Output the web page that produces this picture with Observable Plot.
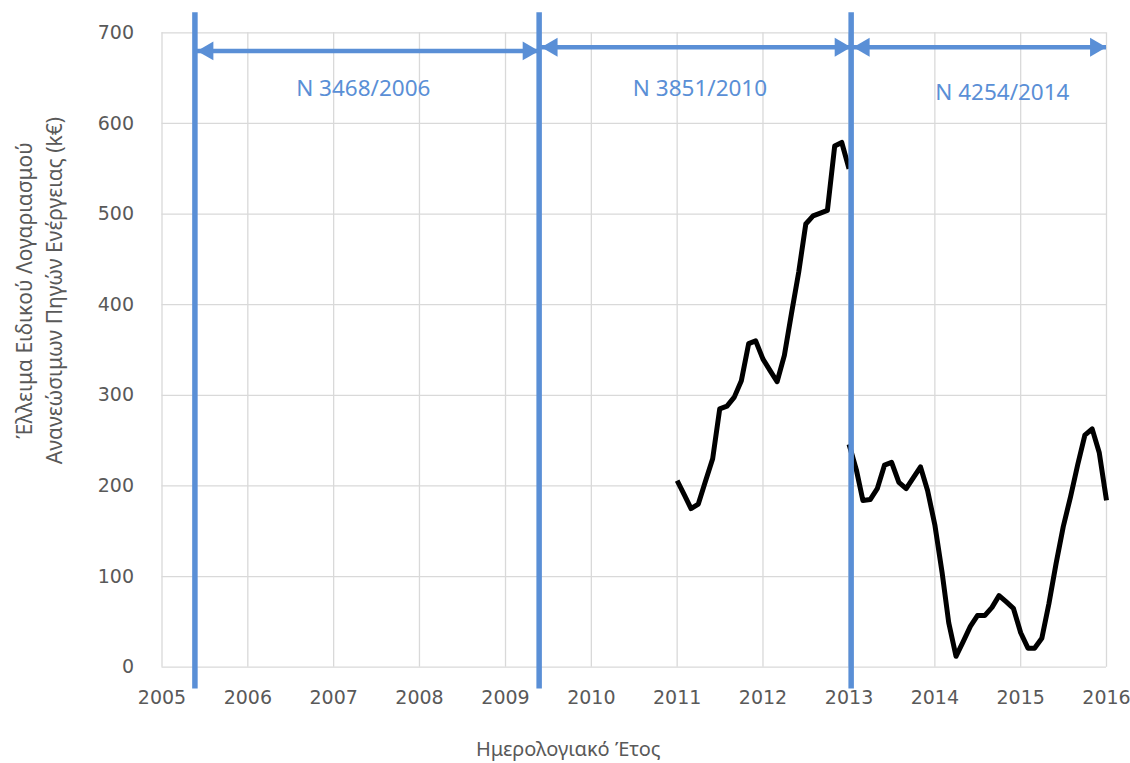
<!DOCTYPE html>
<html>
<head>
<meta charset="utf-8">
<script src="https://cdn.jsdelivr.net/npm/d3@7"></script>
<script src="https://cdn.jsdelivr.net/npm/@observablehq/plot@0.6"></script>
<style>
  html, body { margin: 0; padding: 0; background: #ffffff; }
  #chart svg { display: block; }
</style>
</head>
<body>
<div id="chart"></div>
<script>
// Monthly balance of the RES special account (k€)
const series1Start = "2011-01-01";
const series1Values = [206, 190, 175, 180, 205, 230, 285, 288, 298, 316, 357, 360,
                       340, 327, 315, 344, 390, 436, 489, 498, 501, 504, 575, 579,
                       550];
const series2Start = "2013-01-01";
const series2Values = [246, 218, 184, 185, 197, 223, 226, 204, 197, 209, 221, 195,
                       157, 104, 49, 12, 28, 45, 57, 57, 66, 79, 72, 65,
                       38, 21, 21, 32, 70, 115, 155, 188, 224, 256, 263, 237,
                       184];

// Legislative periods
const lawLabels = ["N 3468/2006", "N 3851/2010", "N 4254/2014"];
const lawStarts = ["2005-05-21", "2009-05-24", "2013-01-10"];
const lawEnds   = ["2009-05-24", "2013-01-10", "2016-01-01"];
const lawArrowY = [680, 684, 684];
const lawLabelAt = ["2007-05-07", "2011-04-08", "2014-10-15"];
const lawLabelY = [638, 638, 634];

const yTicks = [0, 100, 200, 300, 400, 500, 600, 700];
const xTickYears = [2005, 2006, 2007, 2008, 2009, 2010, 2011, 2012, 2013, 2014, 2015, 2016];

const parse = d3.utcParse("%Y-%m-%d");
function monthly(start, values) {
  const t0 = parse(start);
  return values.map((v, i) => ({date: d3.utcMonth.offset(t0, i), value: v}));
}
const seg1 = monthly(series1Start, series1Values).map(d => ({...d, seg: "a"}));
const seg2 = monthly(series2Start, series2Values).map(d => ({...d, seg: "b"}));
const balance = seg1.concat(seg2);

const laws = lawLabels.map((label, i) => ({
  label,
  start: parse(lawStarts[i]),
  end: parse(lawEnds[i]),
  arrowY: lawArrowY[i],
  labelAt: parse(lawLabelAt[i]),
  labelY: lawLabelY[i]
}));
const boundaries = laws.map(d => ({date: d.start}));
const yearDates = xTickYears.map(y => new Date(Date.UTC(y, 0, 1)));

const blue = "#5a8fd6";
const grey = "#595959";
const gridColor = "#d9d9d9";
const greekFont = "'Noto Sans', 'Open Sans', sans-serif";

const chart = Plot.plot({
  width: 1130,
  height: 763,
  marginLeft: 161.5,
  marginRight: 24,
  marginTop: 32.3,
  marginBottom: 96.3,
  style: {fontFamily: "'DejaVu Sans', sans-serif", fontSize: "19px", color: grey, background: "#ffffff"},
  x: {type: "utc", domain: [yearDates[0], yearDates[yearDates.length - 1]]},
  y: {domain: [0, 700]},
  marks: [
    Plot.gridX(yearDates, {stroke: gridColor, strokeOpacity: 1, strokeWidth: 1.3}),
    Plot.gridY(yTicks, {stroke: gridColor, strokeOpacity: 1, strokeWidth: 1.3}),
    Plot.axisX(yearDates, {
      tickSize: 0, tickPadding: 23, tickFormat: d3.utcFormat("%Y"), label: null, fill: grey, fontSize: 19
    }),
    Plot.axisY(yTicks, {tickSize: 0, tickPadding: 28, label: null, fill: grey, fontSize: 19}),
    Plot.line(balance, {x: "date", y: "value", z: "seg", stroke: "#000000", strokeWidth: 5,
      strokeLinejoin: "round", strokeLinecap: "butt"}),
    Plot.ruleX(boundaries, {x: "date", y1: -24, y2: 722, stroke: blue, strokeWidth: 5.5}),
    Plot.ruleY(laws, {x1: "start", x2: "end", y: "arrowY", stroke: blue, strokeWidth: 4.5}),
    Plot.dot(laws, {x: "start", y: "arrowY", symbol: "triangle", r: 7, rotate: -90, dx: 13,
      fill: blue, stroke: "none"}),
    Plot.dot(laws, {x: "end", y: "arrowY", symbol: "triangle", r: 7, rotate: 90, dx: -11,
      fill: blue, stroke: "none"}),
    Plot.text(laws, {x: "labelAt", y: "labelY", text: "label", fill: blue,
      fontFamily: greekFont, fontSize: 22.5}),
    Plot.text(["Έλλειμα Ειδικού Λογαριασμού\nΑνανεώσιμων Πηγών Ενέργειας (k€)"], {
      frameAnchor: "left", rotate: -90, dx: -124.5, dy: -59.5, textAnchor: "middle",
      lineAnchor: "middle", lineHeight: 1.43, fontSize: 21, fill: grey, fontFamily: greekFont
    }),
    Plot.text(["Ημερολογιακό Έτος"], {
      frameAnchor: "bottom", dx: -66, dy: 82, textAnchor: "middle", lineAnchor: "middle",
      fontSize: 20, fill: grey, fontFamily: greekFont
    })
  ]
});
document.getElementById("chart").appendChild(chart);
</script>
</body>
</html>
